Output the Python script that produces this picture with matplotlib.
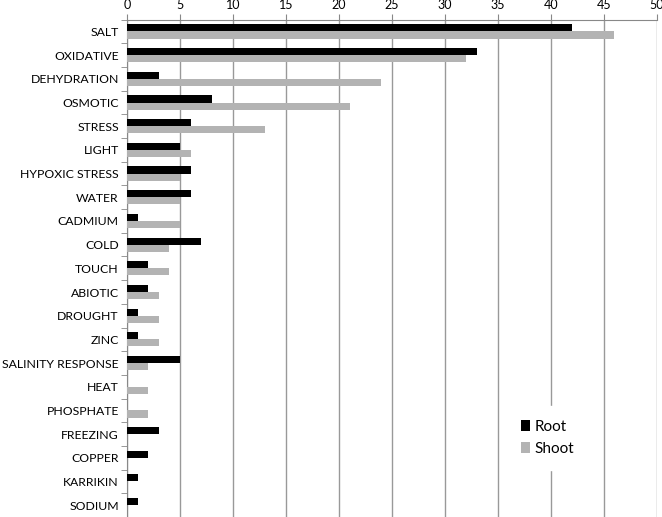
import numpy as np
import matplotlib.pyplot as plt

categories = ['SALT', 'OXIDATIVE', 'DEHYDRATION', 'OSMOTIC', 'STRESS', 'LIGHT',
              'HYPOXIC STRESS', 'WATER', 'CADMIUM', 'COLD', 'TOUCH', 'ABIOTIC',
              'DROUGHT', 'ZINC', 'SALINITY RESPONSE', 'HEAT', 'PHOSPHATE',
              'FREEZING', 'COPPER', 'KARRIKIN', 'SODIUM']
root = [42, 33, 3, 8, 6, 5, 6, 6, 1, 7, 2, 2, 1, 1, 5, 0, 0, 3, 2, 1, 1]
shoot = [46, 32, 24, 21, 13, 6, 5, 5, 5, 4, 4, 3, 3, 3, 2, 2, 2, 0, 0, 0, 0]

plt.rcParams['font.family'] = ['Lato', 'DejaVu Sans']

fig = plt.figure(figsize=(6.62, 5.17), dpi=100)
ax = fig.add_axes([0.192, 0.0, 0.8, 0.962])

y = np.arange(len(categories))
h = 0.3
ax.barh(y - h / 2, root, height=h, color='black', label='Root', zorder=3)
ax.barh(y + h / 2, shoot, height=h, color='#b3b3b3', label='Shoot', zorder=3)

ax.set_xlim(0, 50)
ax.set_ylim(len(categories) - 0.5, -0.5)
ax.set_xticks(np.arange(0, 51, 5))
ax.xaxis.tick_top()
ax.tick_params(axis='x', length=4, color='#888888', labelsize=9, pad=2)
ax.grid(axis='x', color='#999999', linewidth=1, zorder=0)

ax.set_yticks(y)
ax.set_yticklabels(categories, fontsize=8.8)
ax.tick_params(axis='y', length=0, pad=6)
ax.set_yticks(np.arange(-0.5, len(categories), 1), minor=True)
ax.tick_params(axis='y', which='minor', length=4, color='#888888')

for s in ['right', 'bottom']:
    ax.spines[s].set_visible(False)
ax.spines['left'].set_color('#888888')
ax.spines['top'].set_color('#888888')

leg = ax.legend(loc='lower right', bbox_to_anchor=(0.884, 0.08), frameon=True,
                fontsize=11, handlelength=0.6, handleheight=0.7,
                handletextpad=0.3, borderpad=0.9, labelspacing=0.5)
leg.get_frame().set_edgecolor('white')
leg.get_frame().set_facecolor('white')
leg.get_frame().set_alpha(1)
leg.set_zorder(4)

plt.savefig('out.png', dpi=100)
plt.close()
